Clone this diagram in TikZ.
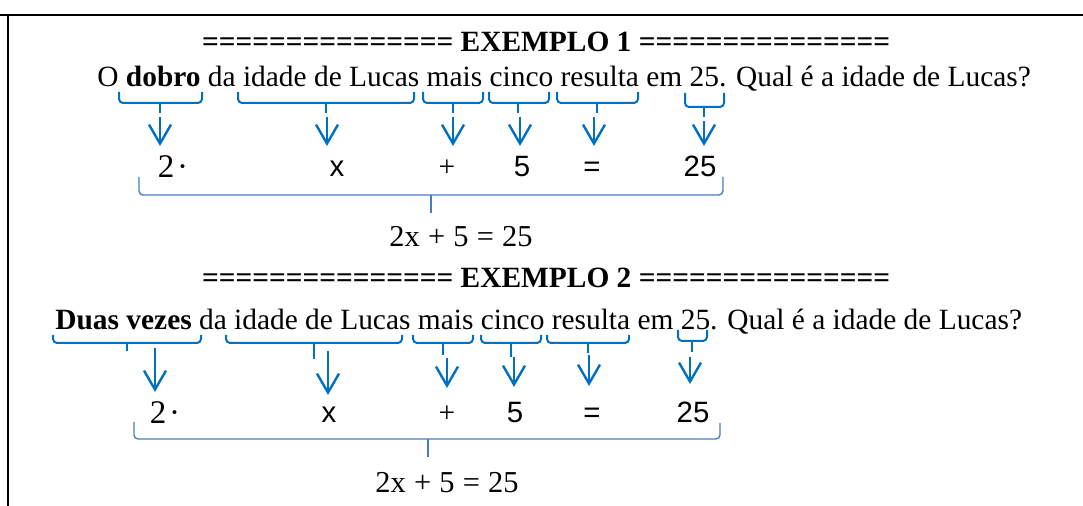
\documentclass[tikz,border=0pt]{standalone}
\usepackage{fontspec}
\setmainfont{Liberation Serif}
\newfontfamily\arialfont{Liberation Sans}
\usepackage{xcolor}
\usetikzlibrary{arrows.meta}
\definecolor{azul}{HTML}{0070C0}
\definecolor{azulcl}{HTML}{4A7EBB}
\newcommand{\eqsp}{\hspace{0.27em}}

\begin{document}
\begin{tikzpicture}[
    x=0.5pt, y=-0.5pt,
    txt/.style={font=\fontsize{14.7}{17}\selectfont, anchor=base, inner sep=0pt},
    ttl/.style={txt, font=\fontsize{14.7}{17}\selectfont\bfseries},
    sans/.style={txt, font=\fontsize{14.7}{17}\selectfont\arialfont},
    dois/.style={txt, font=\fontsize{16.5}{19}\selectfont},
    eqn/.style={txt, font=\fontsize{15.2}{18}\selectfont},
    moldura/.style={line width=1pt, black},
    chave/.style={draw=azul, line width=1pt, rounded corners=2pt},
    chavebig/.style={draw=azulcl, line width=0.7pt, rounded corners=2pt},
    seta/.style={-{Straight Barb[length=9.5pt, width=11pt]}, draw=azul, line width=1.2pt}
]
    \useasboundingbox (0,0) rectangle (1083,506);

    % moldura
    \draw[moldura] (0,15) -- (1083,15);
    \draw[moldura] (8,15) -- (8,506);

    % ---------------- exemplo 1 ----------------
    \node[ttl] (tit1) at (546,52) {=============== EXEMPLO 1 ===============};
    \node[txt, anchor=base west] (frase1) at (97,87) {O \textbf{dobro} da idade de Lucas mais cinco resulta em 25. Qual é a idade de Lucas?};

    % chaves
    \draw[chave] (119,92) -- (119,103) -- (202,103) -- (202,92);
    \draw[chave] (238,92) -- (238,103) -- (414,103) -- (414,92);
    \draw[chave] (423,92) -- (423,103) -- (483,103) -- (483,92);
    \draw[chave] (489,92) -- (489,103) -- (549,103) -- (549,92);
    \draw[chave] (557,92) -- (557,103) -- (638,103) -- (638,92);
    \draw[chave] (685,93) -- (685,107) -- (724,107) -- (724,93);
    \draw[chave] (160,103) -- (160,113);
    \draw[chave] (326,103) -- (326,113);
    \draw[chave] (453,103) -- (453,113);
    \draw[chave] (518,103) -- (518,113);
    \draw[chave] (597,103) -- (597,113);
    \draw[chave] (704,107) -- (704,117);

    % termos
    \node[dois] (dois1) at (173,178) {2\hspace{0.08em}·};
    \node[sans] (x1) at (337,177) {x};
    \node[txt] (mais1) at (447,177) {+};
    \node[sans] (cinco1) at (522,177) {5};
    \node[sans] (igual1) at (592,177) {=};
    \node[sans] (res1) at (700,177) {25};

    % setas
    \coordinate (a1) at (160,117); \coordinate (b1) at (160,146);
    \coordinate (a2) at (327,117); \coordinate (b2) at (327,146);
    \coordinate (a3) at (453,117); \coordinate (b3) at (453,146);
    \coordinate (a4) at (520,117); \coordinate (b4) at (520,146);
    \coordinate (a5) at (594,117); \coordinate (b5) at (594,146);
    \coordinate (a6) at (704,121); \coordinate (b6) at (704,146);
    \draw[seta] (a1) -- (b1);
    \draw[seta] (a2) -- (b2);
    \draw[seta] (a3) -- (b3);
    \draw[seta] (a4) -- (b4);
    \draw[seta] (a5) -- (b5);
    \draw[seta] (a6) -- (b6);

    % chave grande
    \draw[chavebig] (139,177) -- (139,195) -- (723,195) -- (723,177);
    \draw[chavebig] (431,195) -- (431,213);
    \node[eqn] (eq1) at (461,247) {2x\eqsp+\eqsp5\eqsp=\eqsp25};

    % ---------------- exemplo 2 ----------------
    \node[ttl] (tit2) at (546,288) {=============== EXEMPLO 2 ===============};
    \node[txt, anchor=base west] (frase2) at (55,330) {\textbf{Duas vezes} da idade de Lucas mais cinco resulta em 25. Qual é a idade de Lucas?};

    % chaves
    \draw[chave] (53,335) -- (53,343) -- (201,343) -- (201,335);
    \draw[chave] (226,335) -- (226,343) -- (402,343) -- (402,335);
    \draw[chave] (413,335) -- (413,343) -- (473,343) -- (473,335);
    \draw[chave] (481,335) -- (481,343) -- (541,343) -- (541,335);
    \draw[chave] (547,335) -- (547,343) -- (629,343) -- (629,335);
    \draw[chave] (678,330) -- (678,341) -- (707,341) -- (707,330);
    \draw[chave] (127,343) -- (127,351);
    \draw[chave] (314,343) -- (314,359);
    \draw[chave] (443,343) -- (443,355);
    \draw[chave] (511,343) -- (511,357);
    \draw[chave] (588,343) -- (588,353);
    \draw[chave] (692,341) -- (692,352);

    % termos
    \node[dois] (dois2) at (165,424) {2\hspace{0.08em}·};
    \node[sans] (x2) at (329,423) {x};
    \node[txt] (mais2) at (447,423) {+};
    \node[sans] (cinco2) at (515,423) {5};
    \node[sans] (igual2) at (592,423) {=};
    \node[sans] (res2) at (693,423) {25};

    % setas
    \coordinate (c1) at (155,348); \coordinate (d1) at (155,392);
    \coordinate (c2) at (328,351); \coordinate (d2) at (328,395);
    \coordinate (c3) at (447,358); \coordinate (d3) at (447,388);
    \coordinate (c4) at (514,357); \coordinate (d4) at (514,387);
    \coordinate (c5) at (589,355); \coordinate (d5) at (589,386);
    \coordinate (c6) at (690,357); \coordinate (d6) at (690,384);
    \draw[seta] (c1) -- (d1);
    \draw[seta] (c2) -- (d2);
    \draw[seta] (c3) -- (d3);
    \draw[seta] (c4) -- (d4);
    \draw[seta] (c5) -- (d5);
    \draw[seta] (c6) -- (d6);

    % chave grande
    \draw[chavebig] (134,422) -- (134,439) -- (720,439) -- (720,423);
    \draw[chavebig] (428,439) -- (428,457);
    \node[eqn] (eq2) at (447,493) {2x\eqsp+\eqsp5\eqsp=\eqsp25};
\end{tikzpicture}
\end{document}
